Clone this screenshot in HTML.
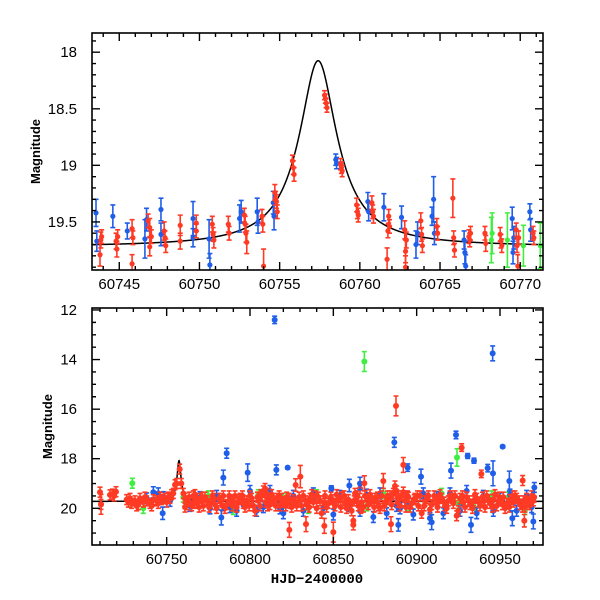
<!DOCTYPE html>
<html><head><meta charset="utf-8"><style>
html,body{margin:0;padding:0;background:#fff;}
svg{display:block;font-family:"Liberation Sans",sans-serif;}
</style></head><body>
<svg id="chart" width="600" height="600" viewBox="0 0 600 600"></svg>
<script>
// ---- top panel data [t, mag, err] ----
const topBlue=[[60743.55,19.42,0.12],[60743.6,19.67,0.09],[60744.6,19.45,0.1],[60745.5,19.58,0.07],[60746.6,19.65,0.17],[60746.7,19.48,0.1],[60747.6,19.39,0.1],[60747.6,19.61,0.1],[60749.6,19.47,0.15],[60749.6,19.64,0.08],[60750.6,19.65,0.17],[60750.65,19.88,0.1],[60752.5,19.47,0.12],[60752.6,19.41,0.1],[60753.6,19.41,0.12],[60753.65,19.5,0.1],[60754.6,19.33,0.1],[60754.65,19.45,0.12],[60758.5,18.95,0.05],[60758.55,18.98,0.05],[60760.5,19.32,0.08],[60760.55,19.41,0.08],[60761.5,19.37,0.12],[60762.6,19.46,0.1],[60763.5,19.7,0.12],[60763.6,19.6,0.1],[60764.5,19.45,0.08],[60764.6,19.3,0.2],[60764.65,19.6,0.1],[60766.5,19.66,0.08],[60766.55,19.77,0.1],[60766.6,19.89,0.1],[60769.5,19.47,0.1],[60769.55,19.77,0.1],[60769.6,19.64,0.1],[60770.6,19.41,0.07],[60770.65,19.57,0.1]];
const topRed=[[60743.8,19.79,0.1],[60743.85,19.66,0.07],[60743.9,19.63,0.06],[60744.8,19.67,0.07],[60744.85,19.74,0.07],[60744.9,19.63,0.06],[60745.8,19.56,0.08],[60745.8,19.87,0.08],[60745.85,19.64,0.06],[60746.8,19.49,0.06],[60746.9,19.55,0.08],[60746.9,19.72,0.08],[60747.0,19.63,0.06],[60747.8,19.58,0.08],[60747.85,19.64,0.06],[60747.9,19.71,0.06],[60748.8,19.53,0.09],[60748.8,19.67,0.07],[60749.8,19.51,0.07],[60749.8,19.58,0.06],[60750.8,19.52,0.07],[60750.85,19.61,0.06],[60750.9,19.66,0.07],[60751.8,19.52,0.07],[60751.85,19.6,0.06],[60752.8,19.44,0.06],[60752.85,19.52,0.07],[60752.9,19.6,0.08],[60752.95,19.68,0.1],[60753.9,19.45,0.06],[60753.95,19.52,0.07],[60754.0,19.89,0.15],[60754.7,19.24,0.07],[60754.75,19.29,0.06],[60754.8,19.32,0.06],[60754.85,19.41,0.06],[60755.8,18.96,0.05],[60755.85,19.02,0.06],[60755.9,19.08,0.06],[60757.8,18.38,0.04],[60757.85,18.41,0.04],[60757.9,18.45,0.04],[60757.95,18.49,0.04],[60758.8,18.99,0.05],[60758.85,19.02,0.05],[60758.9,19.05,0.05],[60759.8,19.35,0.06],[60759.85,19.41,0.06],[60759.9,19.44,0.06],[60760.75,19.33,0.06],[60760.8,19.41,0.06],[60760.85,19.45,0.06],[60761.7,19.83,0.1],[60761.75,19.58,0.06],[60761.8,19.45,0.06],[60761.85,19.54,0.06],[60762.8,19.57,0.08],[60762.85,19.76,0.1],[60762.85,19.9,0.1],[60762.9,19.66,0.07],[60763.8,19.49,0.07],[60763.85,19.61,0.06],[60763.9,19.71,0.06],[60764.8,19.54,0.07],[60764.85,19.6,0.06],[60765.8,19.29,0.17],[60765.85,19.64,0.06],[60765.9,19.75,0.06],[60766.8,19.63,0.06],[60766.85,19.66,0.06],[60766.9,19.6,0.06],[60767.8,19.6,0.06],[60767.85,19.69,0.07],[60768.75,19.61,0.06],[60768.8,19.67,0.06],[60768.85,19.71,0.06],[60769.75,19.57,0.06],[60769.8,19.71,0.06],[60769.85,19.89,0.1],[60769.9,19.64,0.06],[60770.8,19.6,0.06],[60770.85,19.64,0.06]];
const topGreen=[[60768.2,19.66,0.2],[60768.25,19.6,0.18],[60769.2,19.66,0.24],[60770.2,19.71,0.18],[60771.25,19.71,0.2]];

// ---- bottom panel data ----
const botRed=[[60710,19.35],[60710.6,19.84],[60716,19.46],[60717.4,19.43],[60718.5,19.5],[60719.6,19.33],[60726,19.65],[60727,19.75],[60729,19.8],[60731,19.7],[60733,19.85],[60734,19.6],[60736,19.75],[60738,19.7],[60740,19.8],[60742,19.65],[60744,19.7],[60745,19.8],[60747,19.65],[60749,19.6],[60751,19.55],[60752,19.6],[60753,19.45],[60754,19.4],[60755,19.05],[60756,19.0],[60757.8,18.42],[60758.8,19.0],[60760,19.4],[60761,19.6],[60762,19.85],[60763,19.7],[60765,19.9],[60766,19.5],[60768,19.75],[60770,19.6],[60772,19.9],[60774,19.7],[60776,19.8],[60778,19.6],[60780,20.0],[60782,19.7],[60784,19.5],[60786,19.85],[60788,19.65],[60790,19.75],[60792,19.95],[60794,19.6],[60796,19.8],[60798,19.7],[60800,19.5],[60802,19.9],[60803,20.1],[60805,19.7],[60807,19.5],[60808,19.3],[60809,19.2],[60810,19.4],[60811,19.6],[60812,19.85],[60814,19.7],[60816,19.6],[60818,19.9],[60820,19.75],[60822,19.55],[60824,19.8],[60826,19.65],[60828,19.9],[60830,19.7],[60832,19.5],[60834,19.85],[60836,19.6],[60838,19.75],[60840,20.0],[60842,19.7],[60843,20.2],[60845,19.5],[60847,19.8],[60849,19.65],[60851,19.9],[60853,19.7],[60855,19.55],[60857,19.8],[60859,19.65],[60861,20.1],[60862,20.5],[60863,19.4],[60864,19.6],[60865,19.9],[60866,19.2],[60867,19.75],[60869,19.5],[60871,19.85],[60873,19.7],[60875,19.6],[60877,19.9],[60879,19.5],[60881,19.75],[60883,19.65],[60885,19.85],[60886,19.4],[60887,19.1],[60888,19.3],[60889,19.6],[60891,19.5],[60892,19.35],[60893,19.7],[60895,19.55],[60897,19.8],[60899,19.6],[60901,19.9],[60903,20.2],[60905,19.7],[60907,19.5],[60909,19.85],[60911,19.65],[60913,19.75],[60915,19.6],[60917,19.9],[60919,19.7],[60920,19.5],[60922,19.8],[60924,20.3],[60925,20.1],[60926,19.6],[60928,19.75],[60930,19.55],[60932,19.85],[60934,19.7],[60936,19.6],[60938,19.9],[60940,19.7],[60942,19.5],[60944,19.8],[60946,19.65],[60948,19.9],[60950,19.7],[60952,19.55],[60954,19.8],[60956,19.65],[60958,19.75],[60960,19.6],[60962,19.85],[60964,19.7],[60966,19.6],[60968,19.75],[60970,19.7],
[60761,19.95],[60767,19.45],[60773,19.55],[60779,19.85],[60785,20.0],[60791,19.5],[60797,19.95],[60801,19.6],[60806,19.9],[60813,19.45],[60819,19.6],[60825,19.95],[60831,19.9],[60837,19.45],[60841,19.55],[60846,19.95],[60852,19.45],[60858,20.0],[60868,19.95],[60872,19.45],[60878,20.0],[60884,19.5],[60890,19.9],[60896,19.95],[60902,19.5],[60908,20.05],[60914,19.45],[60918,20.0],[60923,19.5],[60929,19.95],[60935,19.45],[60941,19.95],[60947,19.45],[60953,20.0],[60959,19.5],[60965,19.95],[60969,19.5]];
const botRed2=[[60728,19.6],[60732,19.9],[60737,19.55],[60741,19.9],[60746,19.55],[60750,19.75],[60763.5,19.55],[60766.5,19.8],[60769.5,19.95],[60771.5,19.55],[60775.5,19.95],[60777.5,19.5],[60781.5,19.6],[60783.5,19.9],[60787.5,19.5],[60789.5,19.9],[60793.5,19.65],[60795.5,19.5],[60799.5,19.9],[60804.5,19.55],[60806.5,19.45],[60809.5,19.75],[60810.5,19.9],[60815.5,19.9],[60817.5,19.5],[60821.5,19.9],[60823.5,19.6],[60827.5,19.75],[60829.5,19.55],[60833.5,19.7],[60835.5,19.95],[60839.5,19.5],[60844.5,19.8],[60848.5,19.55],[60850.5,19.8],[60854.5,19.95],[60856.5,19.5],[60860.5,19.85],[60862.5,19.7],[60864.5,19.5],[60866.5,20.0],[60870.5,19.65],[60874.5,19.95],[60876.5,19.55],[60880.5,19.9],[60882.5,19.5],[60888.5,19.75],[60893.5,19.95],[60894.5,19.5],[60898.5,19.65],[60900.5,19.5],[60904.5,19.9],[60906.5,19.6],[60910.5,19.5],[60912.5,19.95],[60916.5,19.75],[60921.5,19.6],[60927.5,19.5],[60931.5,19.7],[60933.5,20.0],[60937.5,19.75],[60939.5,19.55],[60943.5,19.65],[60945.5,19.95],[60949.5,19.55],[60951.5,19.85],[60955.5,19.95],[60957.5,19.5],[60961.5,19.7],[60963.5,19.95],[60967.5,19.85],[60970.5,19.55]];
const botBlue=[[60738,19.6],[60742,19.35],[60745,19.4],[60748,19.55],[60752,19.7],[60764,19.9],[60770,19.55],[60776,20.0],[60780,19.5],[60788,19.95],[60792,20.1],[60796,19.7],[60800,19.3],[60804,20.1],[60808,19.95],[60812,19.3],[60818,20.0],[60820,20.2],[60826,19.5],[60832,20.1],[60838,19.4],[60844,20.0],[60850,20.25],[60854,19.5],[60860,19.9],[60866,20.1],[60870,19.45],[60874,20.35],[60878,19.4],[60882,20.2],[60888,19.9],[60890,20.0],[60894,19.6],[60898,20.25],[60904,19.4],[60908,20.4],[60912,19.55],[60916,20.2],[60920,19.4],[60926,20.1],[60930,19.3],[60936,20.2],[60940,19.5],[60946,20.1],[60950,19.6],[60956,19.45],[60960,20.1],[60966,19.5],[60969,19.95]];
const botGreen=[[60728,19.75],[60736,20.0],[60760,19.55],[60775,19.5],[60790,20.05],[60805,19.45],[60820,19.6],[60835,20.0],[60840,19.45],[60855,19.55],[60870,19.9],[60880,19.4],[60895,19.9],[60905,19.6],[60915,19.4],[60925,19.8],[60935,20.0],[60945,19.5],[60955,19.55],[60965,20.05]];
const outBlue=[[60814.8,12.4,0.15],[60945.6,13.75,0.3],[60886.6,17.34,0.2],[60923.6,17.04,0.15],[60930.6,17.89,0.1],[60934.4,18.08,0.1],[60951.6,17.51,0.05],[60786,17.78,0.2],[60784,18.76,0.3],[60798.6,18.56,0.35],[60815.8,18.45,0.2],[60822.6,18.36,0.05],[60894.6,18.36,0.15],[60902.6,18.72,0.3],[60920.6,18.48,0.3],[60942.6,18.38,0.15],[60945.8,18.59,0.5],[60955.6,18.9,0.4],[60848.8,19.19,0.1],[60859.6,19.08,0.25],[60866,19.0,0.25],[60970.6,19.16,0.2],[60782.8,20.37,0.3],[60747.6,20.2,0.25],[60932.6,20.67,0.3],[60957.4,20.4,0.3],[60970,20.53,0.3],[60889,20.67,0.25],[60909,20.56,0.3]];
const outGreen=[[60868.6,14.08,0.4],[60924.2,17.95,0.35],[60729.4,18.99,0.2]];
const outRed=[[60887.6,15.87,0.4],[60927,17.55,0.15],[60892,18.25,0.3],[60938.8,18.61,0.15],[60963.6,18.88,0.2],[60830.2,18.72,0.45],[60827.4,19.06,0.25],[60868.6,18.99,0.3],[60880,18.9,0.3],[60823.6,20.87,0.3],[60833.6,20.64,0.3],[60844.6,20.71,0.3],[60850,20.96,0.4],[60884.6,20.64,0.3],[60862,20.67,0.2],[60964.6,20.5,0.25],[60710.6,19.84,0.4]];

// model parameters (Lorentzian-shaped flux excess)
const modelT0=60757.4, modelAmp=3.55, modelWidth=1.0, modelBase=19.72;

// ticks
const topXTicks=[60745,60750,60755,60760,60765,60770];
const topYTicks=[18,18.5,19,19.5];
const botXTicks=[60750,60800,60850,60900,60950];
const botYTicks=[12,14,16,18,20];

const COLORS={red:'#ff3a24',blue:'#1f5ee8',green:'#3fef3f'};
const NS='http://www.w3.org/2000/svg';
const svg=document.getElementById('chart');
function el(tag,attrs,parent){const e=document.createElementNS(NS,tag);for(const k in attrs)e.setAttribute(k,attrs[k]);(parent||svg).appendChild(e);return e;}

function modelMag(t){const d=(t-modelT0)/modelWidth;const F=1+modelAmp/(1+d*d);return modelBase-2.5*Math.log10(F);}

function panel(cfg){
  const {L,R,T,B,x0,x1,y0,y1}=cfg;
  const g=el('g',{});
  
  
  const sx=t=>L+(t-x0)/(x1-x0)*(R-L);
  const sy=m=>T+(m-y0)/(y1-y0)*(B-T);
  const clip=el('clipPath',{id:cfg.name+'-clip'},g);
  el('rect',{x:L,y:T,width:R-L,height:B-T},clip);
  const data=el('g',{'clip-path':'url(#'+cfg.name+'-clip)'},g);
  
  
  let d='';const N=1600;
  for(let i=0;i<=N;i++){const t=x0+(x1-x0)*i/N;d+=(i?'L':'M')+sx(t).toFixed(2)+' '+sy(modelMag(t)).toFixed(2);}
  const path=el('path',{d:d,fill:'none',stroke:'#000','stroke-width':1.5},data);
  
  
  function series(arr,color,defErr,name){
    const sg=el('g',{},data);
    
    
    arr.forEach(p=>{
      const e=p.length>2?p[2]:defErr;
      const x=sx(p[0]),y=sy(p[1]),ya=sy(p[1]-e),yb=sy(p[1]+e);
      const pt=el('g',{},sg);
      
      
      el('path',{d:`M${x} ${ya}V${yb}M${x-2.5} ${ya}H${x+2.5}M${x-2.5} ${yb}H${x+2.5}`,stroke:color,'stroke-width':1.6,fill:'none'},pt);
      el('circle',{cx:x,cy:y,r:cfg.r||2.6,fill:color},pt);
    });
  }
  cfg.series.forEach(s=>series(s[0],COLORS[s[1]],s[2],s[3]));
  const fr=el('rect',{x:L,y:T,width:R-L,height:B-T,fill:'none',stroke:'#000','stroke-width':1.6},g);
  
  
  let td='';
  for(let v=Math.ceil(x0/cfg.xMinor)*cfg.xMinor;v<=x1;v+=cfg.xMinor){const x=sx(v);const major=Math.abs(v/cfg.xMajor-Math.round(v/cfg.xMajor))<1e-6;const len=major?8:4;td+=`M${x} ${B}V${B-len}M${x} ${T}V${T+len}`;}
  for(let v=Math.ceil(y0/cfg.yMinor-1e-9)*cfg.yMinor;v<=y1+1e-9;v+=cfg.yMinor){const y=sy(v);const major=Math.abs(v/cfg.yMajor-Math.round(v/cfg.yMajor))<1e-6;const len=major?8:4;td+=`M${L} ${y}H${L+len}M${R} ${y}H${R-len}`;}
  const tk=el('path',{d:td,stroke:'#000','stroke-width':1.4,fill:'none'},g);
  
  
  cfg.xTicks.forEach(v=>{const t=el('text',{x:sx(v),y:B+19,'text-anchor':'middle','font-size':15},g);t.textContent=v;
    
    });
  cfg.yTicks.forEach(v=>{const t=el('text',{x:L-15,y:sy(v)+5,'text-anchor':'end','font-size':15},g);t.textContent=v;
    
    });
  const yl=el('text',{x:0,y:0,transform:`translate(${cfg.ylabX},${(T+B)/2}) rotate(-90)`,'text-anchor':'middle','font-size':13,'font-weight':'bold'},g);
  yl.textContent='Magnitude';
  
  
  return {sx,sy,g};
}

panel({name:'zoom-panel',L:92,R:543,T:33,B:270,x0:60743.3,x1:60771.42,y0:17.83,y1:19.925,xMajor:5,xMinor:1,yMajor:0.5,yMinor:0.1,xTicks:topXTicks,yTicks:topYTicks,ylabX:40,
  series:[[topBlue,'blue',0.1,'series-blue'],[topGreen,'green',0.2,'series-green'],[topRed,'red',0.08,'series-red']]});
const bp=panel({name:'full-panel',r:3,L:92,R:543,T:308,B:545,x0:60705.2,x1:60975.8,y0:11.92,y1:21.48,xMajor:50,xMinor:10,yMajor:2,yMinor:0.5,xTicks:botXTicks,yTicks:botYTicks,ylabX:52,
  series:[[botGreen,'green',0.2,'band-green'],[botBlue,'blue',0.22,'band-blue'],[botRed,'red',0.2,'band-red'],[botRed2,'red',0.2,'band-red-2'],[outGreen,'green',0.2,'outliers-green'],[outBlue,'blue',0.2,'outliers-blue'],[outRed,'red',0.2,'outliers-red']]});
const xl=el('text',{x:317,y:583,'text-anchor':'middle','font-size':14,'font-family':'Liberation Mono, monospace','font-weight':'bold'},bp.g);
xl.textContent='HJD\u22122400000';


</script>
</body></html>
